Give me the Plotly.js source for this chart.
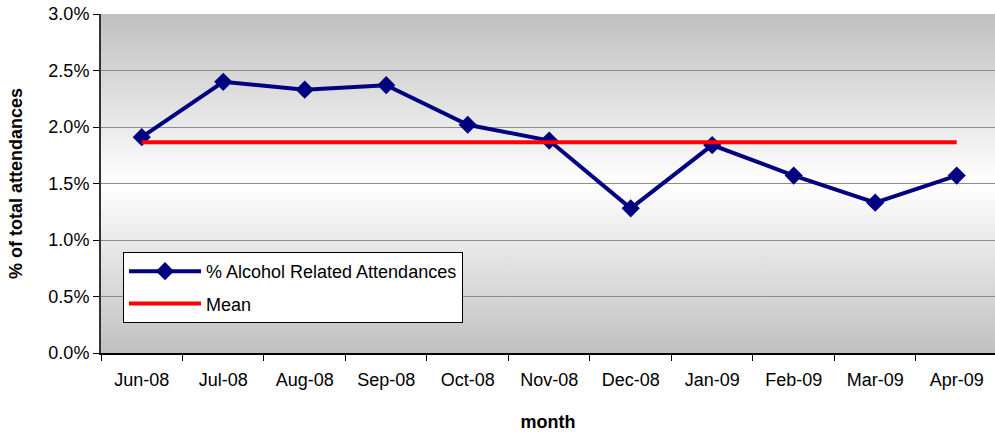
<!DOCTYPE html>
<html>
<head>
<meta charset="utf-8">
<script src="https://cdn.plot.ly/plotly-3.0.1.min.js"></script>
<style>html,body{margin:0;padding:0;background:#fff;}#chart{width:995px;height:435px;}</style>
</head>
<body>
<div id="chart"></div>
<script>
var months = ["Jun-08","Jul-08","Aug-08","Sep-08","Oct-08","Nov-08","Dec-08","Jan-09","Feb-09","Mar-09","Apr-09"];
var alcoholPct = [1.91, 2.40, 2.33, 2.37, 2.02, 1.88, 1.28, 1.84, 1.57, 1.33, 1.57];
var meanPct = [1.865, 1.865, 1.865, 1.865, 1.865, 1.865, 1.865, 1.865, 1.865, 1.865, 1.865];
var yTickVals = [0, 0.5, 1.0, 1.5, 2.0, 2.5, 3.0];
var yTickText = ["0.0%","0.5%","1.0%","1.5%","2.0%","2.5%","3.0%"];

var grad = 'data:image/svg+xml;utf8,' + encodeURIComponent(
 '<svg xmlns="http://www.w3.org/2000/svg" width="100" height="100" preserveAspectRatio="none">' +
 '<defs><linearGradient id="g" x1="0" y1="0" x2="0" y2="1">' +
 '<stop offset="0" stop-color="#c0c0c0"/><stop offset="0.5" stop-color="#ffffff"/><stop offset="1" stop-color="#c0c0c0"/>' +
 '</linearGradient></defs><rect width="100" height="100" fill="url(#g)"/></svg>');

var traces = [
 {x: months, y: alcoholPct, name: "% Alcohol Related Attendances", type: "scatter", mode: "lines+markers",
  legendgroup: "a",
  line: {color: "#000080", width: 4}, marker: {symbol: "diamond", size: 14, color: "#000080"}},
 {x: months, y: meanPct, name: "Mean", type: "scatter", mode: "lines", legendgroup: "b",
  line: {color: "#ff0000", width: 4}}
];

var layout = {
 width: 995, height: 435,
 margin: {l: 101, r: 0, t: 14, b: 82},
 paper_bgcolor: "#ffffff",
 plot_bgcolor: "rgba(0,0,0,0)",
 font: {family: "Liberation Sans, Arial, sans-serif", size: 18, color: "#000"},
 images: [{source: grad, xref: "paper", yref: "paper", x: 0, y: 1, sizex: 1, sizey: 1,
  sizing: "stretch", xanchor: "left", yanchor: "top", layer: "below"}],
 xaxis: {type: "category", range: [-0.5, 10.47], tickson: "boundaries", ticks: "outside", ticklen: 6,
  ticklabelstandoff: 9,
  tickcolor: "#000", showline: true, linecolor: "#000", linewidth: 2, showgrid: false,
  tickfont: {size: 18}, title: {text: "month", font: {size: 18, weight: "bold"}, standoff: 27}},
 yaxis: {range: [0, 3.0], tickvals: yTickVals, ticktext: yTickText, ticks: "outside", ticklen: 6,
  tickcolor: "#000", showline: true, linecolor: "#333", linewidth: 2, showgrid: true,
  gridcolor: "#8c8c8c", gridwidth: 1, zeroline: false, tickfont: {size: 18},
  title: {text: "% of total attendances", font: {size: 18, weight: "bold"}, standoff: 21}},
 showlegend: true,
 legend: {x: 0.0246, y: 0.298, xanchor: "left", yanchor: "top", bgcolor: "#ffffff",
  bordercolor: "#000", borderwidth: 1, font: {size: 18}, itemwidth: 72,
  traceorder: "grouped", tracegroupgap: 6}
};

Plotly.newPlot("chart", traces, layout, {displayModeBar: false, staticPlot: true});
</script>
</body>
</html>
